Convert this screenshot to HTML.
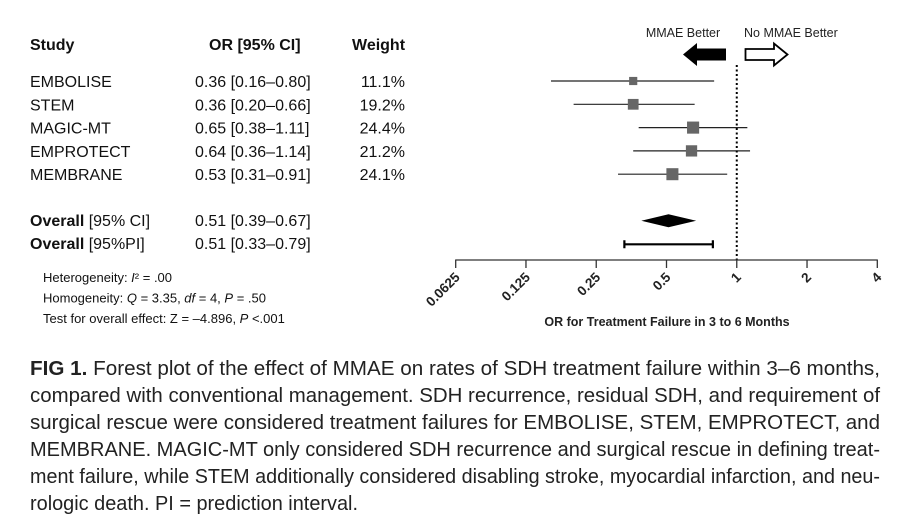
<!DOCTYPE html>
<html><head><meta charset="utf-8">
<style>
html,body{margin:0;padding:0;background:#fff;}
body{width:910px;height:528px;position:relative;overflow:hidden;font-family:"Liberation Sans",sans-serif;color:#111;}
</style></head><body>
<svg width="910" height="340" style="position:absolute;left:0;top:0" font-family="Liberation Sans, sans-serif">
<g id="table" fill="#111"></g>
<g id="plot"></g>
</svg>
<svg width="910" height="188" style="position:absolute;left:0;top:340px" font-family="Liberation Sans, sans-serif" font-size="20" fill="#222">
<text x="30" y="35" textLength="850" lengthAdjust="spacingAndGlyphs"><tspan font-weight="bold">FIG 1.</tspan> Forest plot of the effect of MMAE on rates of SDH treatment failure within 3–6 months,</text>
<text x="30" y="62" textLength="850" lengthAdjust="spacingAndGlyphs">compared with conventional management. SDH recurrence, residual SDH, and requirement of</text>
<text x="30" y="89" textLength="850" lengthAdjust="spacingAndGlyphs">surgical rescue were considered treatment failures for EMBOLISE, STEM, EMPROTECT, and</text>
<text x="30" y="116" textLength="850" lengthAdjust="spacingAndGlyphs">MEMBRANE. MAGIC-MT only considered SDH recurrence and surgical rescue in defining treat-</text>
<text x="30" y="143" textLength="850" lengthAdjust="spacingAndGlyphs">ment failure, while STEM additionally considered disabling stroke, myocardial infarction, and neu-</text>
<text x="30" y="170" textLength="328" lengthAdjust="spacingAndGlyphs">rologic death. PI = prediction interval.</text>
</svg>
<script>
const studies=["EMBOLISE","STEM","MAGIC-MT","EMPROTECT","MEMBRANE"];
const orVals=[0.36,0.36,0.65,0.64,0.53];
const ciLow=[0.16,0.20,0.38,0.36,0.31];
const ciHigh=[0.80,0.66,1.11,1.14,0.91];
const weights=[11.1,19.2,24.4,21.2,24.1];
const overallOR=[0.51];
const overallCI=[0.39,0.67];
const overallPI=[0.33,0.79];
const tickVals=[0.0625,0.125,0.25,0.5,1,2,4];
const tickLabels=["0.0625","0.125","0.25","0.5","1","2","4"];
const NS="http://www.w3.org/2000/svg";
function mk(parent,tag,attrs,text){const e=document.createElementNS(NS,tag);for(const k in attrs)e.setAttribute(k,attrs[k]);if(text!==undefined)e.textContent=text;parent.appendChild(e);return e;}
const x0=455.7,x1=877.3;
function xScale(v){return x0+(Math.log2(v)-Math.log2(0.0625))*(x1-x0)/6;}
function yRow(i){return 81+i*23.3;}
function fmt(v){return v.toFixed(2);}
const T=document.getElementById('table'),P=document.getElementById('plot');
let e;
e=mk(T,'text',{x:30,y:50,'font-size':16,'font-weight':'bold'},'Study');

e=mk(T,'text',{x:209,y:50,'font-size':16,'font-weight':'bold'},'OR [95% CI]');

e=mk(T,'text',{x:352,y:50,'font-size':16,'font-weight':'bold'},'Weight');

studies.forEach((s,i)=>{
 const y=yRow(i)+6;
 e=mk(T,'text',{x:30,y:y,'font-size':16},s);
 
 e=mk(T,'text',{x:195,y:y,'font-size':16},fmt(orVals[i])+' ['+fmt(ciLow[i])+'–'+fmt(ciHigh[i])+']');
 
 e=mk(T,'text',{x:405,y:y,'font-size':16,'text-anchor':'end'},weights[i].toFixed(1)+'%');
 
 const yc=yRow(i);
 e=mk(P,'line',{x1:xScale(ciLow[i]),x2:xScale(ciHigh[i]),y1:yc,y2:yc,stroke:'#222','stroke-width':1.2});
 
 const sz=Math.max(4,Math.sqrt(weights[i])*2.45);
 e=mk(P,'rect',{x:xScale(orVals[i])-sz/2,y:yc-sz/2,width:sz,height:sz,fill:'#666'});
 
});
function ov(y,label,rng,name){
 const t=mk(T,'text',{x:30,y:y,'font-size':16});
 
 mk(t,'tspan',{'font-weight':'bold'},'Overall');mk(t,'tspan',{},' '+label);
 e=mk(T,'text',{x:195,y:y,'font-size':16},fmt(overallOR[0])+' ['+fmt(rng[0])+'–'+fmt(rng[1])+']');
 
}
ov(226,'[95% CI]',overallCI,'overall-ci-label');
ov(249,'[95%PI]',overallPI,'overall-pi-label');
[['Heterogeneity: ',[['I',1],['² = .00',0]]],['Homogeneity: ',[['Q',1],[' = 3.35, ',0],['df',1],[' = 4, ',0],['P',1],[' = .50',0]]],['Test for overall effect: Z = –4.896,  ',[['P',1],[' <.001',0]]]].forEach((r,i)=>{
 const t=mk(T,'text',{x:43,y:282+i*20.5,'font-size':13});
 
 mk(t,'tspan',{},r[0]);r[1].forEach(p=>{mk(t,'tspan',p[1]?{'font-style':'italic'}:{},p[0]);});
});
const yd=220.7;
e=mk(P,'polygon',{points:`${xScale(overallCI[0])},${yd} ${xScale(overallOR[0])},${yd-6.5} ${xScale(overallCI[1])},${yd} ${xScale(overallOR[0])},${yd+6.5}`,fill:'#000'});

const yp=244.3,pa=xScale(overallPI[0]),pb=xScale(overallPI[1]);
e=mk(P,'path',{d:`M${pa},${yp}H${pb}M${pa},${yp-4}V${yp+4}M${pb},${yp-4}V${yp+4}`,stroke:'#000','stroke-width':2.2,fill:'none'});

e=mk(P,'line',{x1:xScale(1),x2:xScale(1),y1:65,y2:260,stroke:'#000','stroke-width':2,'stroke-dasharray':'2,2.5'});

e=mk(P,'line',{x1:x0,x2:x1,y1:260,y2:260,stroke:'#333','stroke-width':1.3});

tickVals.forEach((v,i)=>{
 const x=xScale(v);
 e=mk(P,'line',{x1:x,x2:x,y1:259.5,y2:268,stroke:'#333','stroke-width':1.3});
 
 e=mk(P,'text',{x:0,y:0,'font-size':13.5,'font-weight':'bold','text-anchor':'end',transform:`translate(${x+5},${278}) rotate(-45)`,fill:'#222'},tickLabels[i]);
 
});
e=mk(P,'text',{x:667,y:326,'font-size':12.5,'font-weight':'bold','text-anchor':'middle',fill:'#222'},'OR for Treatment Failure in 3 to 6 Months');

e=mk(P,'text',{x:683,y:37,'font-size':12.5,'text-anchor':'middle',fill:'#222'},'MMAE Better');

e=mk(P,'text',{x:744,y:37,'font-size':12.5,fill:'#222'},'No MMAE Better');

e=mk(P,'polygon',{points:'726,48.5 697,48.5 697,43 683,54.5 697,66 697,60.5 726,60.5',fill:'#000'});

e=mk(P,'polygon',{points:'745.5,49 774,49 774,43.5 787.5,54.5 774,65.5 774,60 745.5,60',fill:'#fff',stroke:'#000','stroke-width':1.8});

</script>
</body></html>
